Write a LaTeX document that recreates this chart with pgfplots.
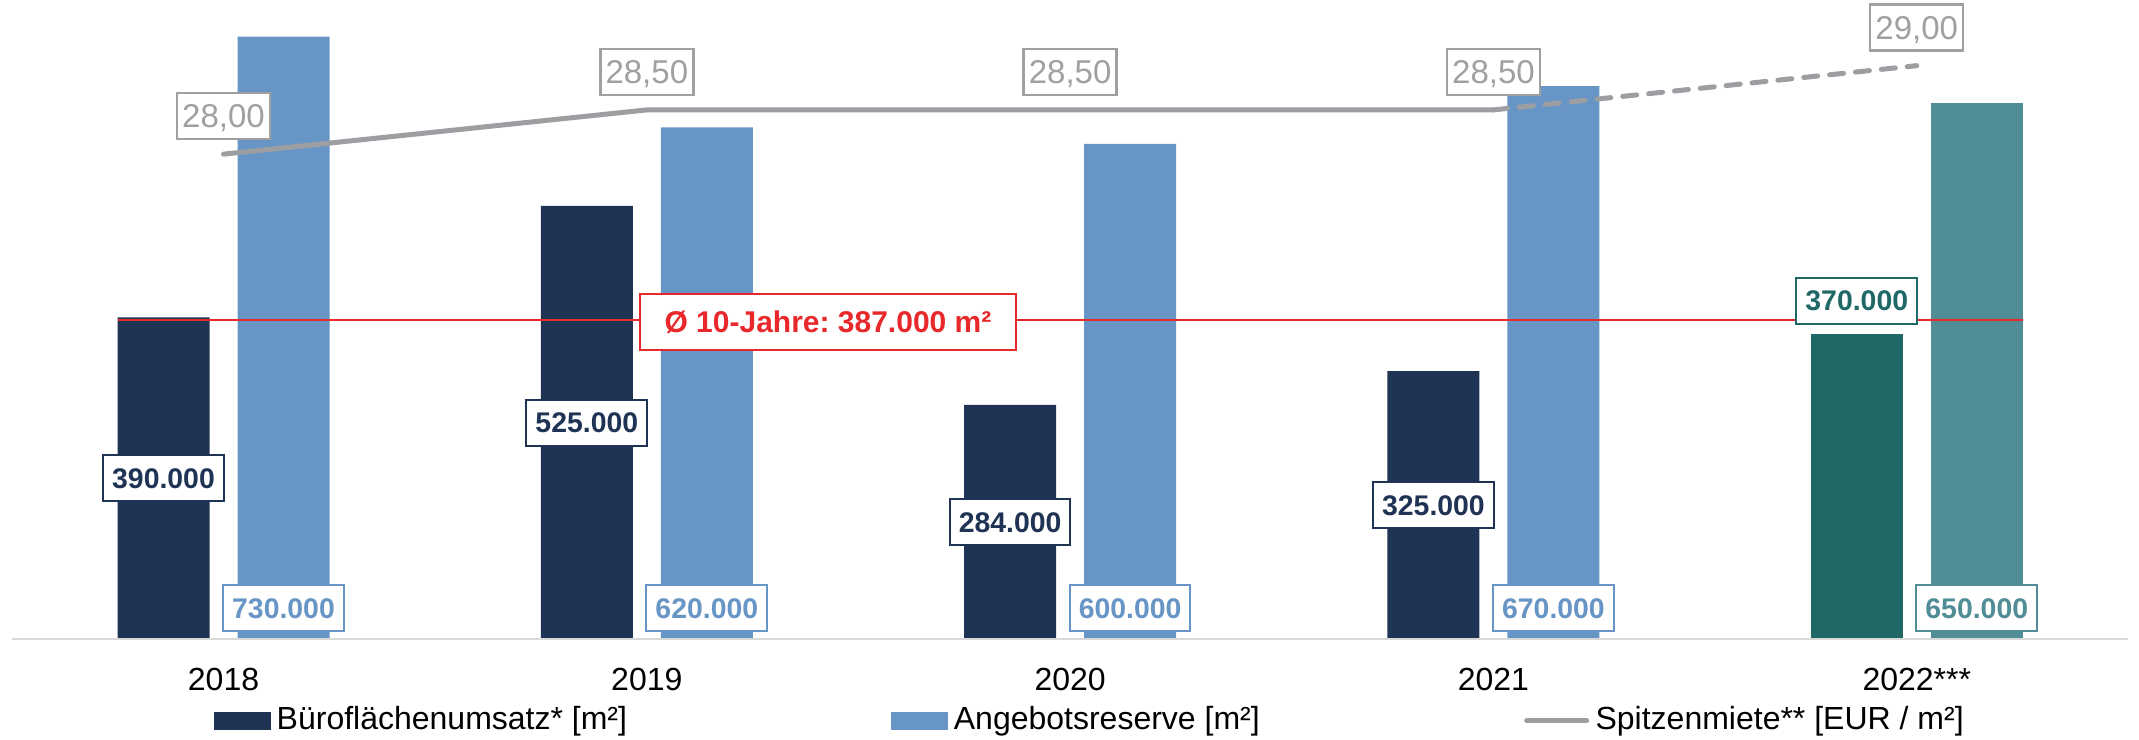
\documentclass[border=0pt]{standalone}
\usepackage{pgfplots}
\pgfplotsset{compat=1.18}
\usepackage{pgfplotstable}
\usepackage{fontspec}
\setmainfont{Liberation Sans}
\frenchspacing

\definecolor{navy}{HTML}{1F3354}
\definecolor{lblue}{HTML}{6795C5}
\definecolor{tealD}{HTML}{206866}
\definecolor{tealL}{HTML}{518D96}
\definecolor{linegray}{HTML}{9D9EA1}
\definecolor{lblgray}{HTML}{A0A0A0}
\definecolor{avgred}{HTML}{E8282B}
\definecolor{basegray}{HTML}{D9D9D9}

% Bueroflaechenumsatz und Angebotsreserve in m2
\pgfplotstableread{
x umsatz reserve
0 390000 730000
1 525000 620000
2 284000 600000
3 325000 670000
}\bueros
% 2022 (Prognose)
\pgfplotstableread{
x umsatz reserve
4 370000 650000
}\prognose
% Spitzenmiete EUR/m2
\pgfplotstableread{
x miete
0 28.00
1 28.50
2 28.50
3 28.50
4 29.00
}\miete

\pgfplotsset{
  base/.style={
    scale only axis, width=1069.5pt, height=319.65pt,
    xmin=-0.528, xmax=4.525,
    axis line style={draw=none},
    major tick length=0pt,
    ytick=\empty,
    clip=false,
  },
}
\tikzset{
  boxlbl/.style={fill=white, line width=1pt, inner xsep=4.5pt, inner ysep=6.5pt,
    text height=10pt, text depth=0pt, font=\fontsize{14.2}{17}\selectfont\bfseries},
}

\begin{document}
\begin{tikzpicture}
\begin{axis}[base,
    ymin=0, ymax=774000,
    xtick={0,...,4},
    xticklabels={2018,2019,2020,2021,2022***},
    xticklabel style={font=\fontsize{16}{19}\selectfont, inner sep=0pt,
      text height=11.5pt, text depth=0pt, yshift=-14pt},
    legend columns=3,
    legend style={at={(0.1000,-0.1270)}, anchor=west, draw=none, fill=none,
      inner sep=0pt, outer sep=0pt, font=\fontsize{16}{19}\selectfont,
      nodes={inner sep=0pt, text height=13.5pt, text depth=5pt},
      cells={anchor=west},
      /tikz/every odd column/.append style={column sep=3pt},
      /tikz/every even column/.append style={column sep=132pt}},
  ]
  % bars
  \addplot[ybar, bar width=46pt, bar shift=-30pt, fill=navy, draw=none, forget plot]
    table[x=x, y=umsatz] {\bueros};
  \addplot[ybar, bar width=46pt, bar shift=30pt, fill=lblue, draw=none, forget plot]
    table[x=x, y=reserve] {\bueros};
  \addplot[ybar, bar width=46pt, bar shift=-30pt, fill=tealD, draw=none, forget plot]
    table[x=x, y=umsatz] {\prognose};
  \addplot[ybar, bar width=46pt, bar shift=30pt, fill=tealL, draw=none, forget plot]
    table[x=x, y=reserve] {\prognose};

  \draw[basegray, line width=1pt] (axis cs:-0.5,0) -- (axis cs:4.5,0);

  % labels
  \addplot[draw=none, forget plot, point meta=\thisrow{umsatz},
    nodes near coords={\pgfmathprintnumber[assume math mode=true, fixed, 1000 sep={.}]{\pgfplotspointmeta}},
    every node near coord/.style={boxlbl, anchor=center, draw=navy, text=navy, xshift=-30pt}]
    table[x=x, y expr=\thisrow{umsatz}/2] {\bueros};
  \addplot[draw=none, forget plot, point meta=\thisrow{reserve},
    nodes near coords={\pgfmathprintnumber[assume math mode=true, fixed, 1000 sep={.}]{\pgfplotspointmeta}},
    every node near coord/.style={boxlbl, anchor=center, draw=lblue, text=lblue, xshift=30pt}]
    table[x=x, y expr=38000] {\bueros};
  \addplot[draw=none, forget plot, point meta=\thisrow{umsatz},
    nodes near coords={\pgfmathprintnumber[assume math mode=true, fixed, 1000 sep={.}]{\pgfplotspointmeta}},
    every node near coord/.style={boxlbl, anchor=south, yshift=4.5pt, draw=tealD, text=tealD, xshift=-30pt}]
    table[x=x, y=umsatz] {\prognose};
  \addplot[draw=none, forget plot, point meta=\thisrow{reserve},
    nodes near coords={\pgfmathprintnumber[assume math mode=true, fixed, 1000 sep={.}]{\pgfplotspointmeta}},
    every node near coord/.style={boxlbl, anchor=center, draw=tealL, text=tealL, xshift=30pt}]
    table[x=x, y expr=38000] {\prognose};

  % 10-Jahres-Durchschnitt
  \addplot[avgred, line width=1.3pt, forget plot] coordinates {(-0.25,387000) (4.25,387000)};
  \node[fill=white, draw=avgred, line width=1pt, text=avgred,
    font=\fontsize{15}{18}\selectfont\bfseries, inner xsep=12.5pt, inner ysep=8.6pt,
    text height=10.8pt, text depth=0pt, yshift=-1pt]
    at (axis cs:1.428,387000) {Ø 10-Jahre: 387.000 m²};

  \addlegendimage{legend image code/.code={\fill[navy] (0pt,-4.25pt) rectangle (28pt,4.25pt);}}
  \addlegendentry{Büroflächenumsatz* [m²]}
  \addlegendimage{legend image code/.code={\fill[lblue] (0pt,-4.25pt) rectangle (28pt,4.25pt);}}
  \addlegendentry{Angebotsreserve [m²]}
  \addlegendimage{legend image code/.code={\path (0pt,0pt) (32.5pt,0pt);
      \draw[linegray, line width=2.5pt, line cap=round] (1.25pt,0pt) -- (31.25pt,0pt);}}
  \addlegendentry{Spitzenmiete** [EUR / m²]}
\end{axis}

\begin{axis}[base, ymin=22.516, ymax=29.740, hide axis]
  \addplot[linegray, line width=2.5pt, line cap=round, line join=round,
    restrict x to domain=0:3] table[x=x, y=miete] {\miete};
  \addplot[linegray, line width=2.5pt, line cap=round, dash pattern=on 7pt off 6pt,
    restrict x to domain=3:4] table[x=x, y=miete] {\miete};
  \addplot[draw=none, point meta=\thisrow{miete},
    nodes near coords={\pgfmathprintnumber[assume math mode=true, fixed, fixed zerofill, precision=2, use comma]{\pgfplotspointmeta}},
    every node near coord/.style={anchor=south, yshift=7pt, fill=white, draw=lblgray,
      line width=1.2pt, text=lblgray, font=\fontsize{16.5}{19}\selectfont,
      inner xsep=2.6pt, inner ysep=5.6pt, text height=11.8pt, text depth=0pt}]
    table[x=x, y=miete] {\miete};
\end{axis}
\end{tikzpicture}
\end{document}
